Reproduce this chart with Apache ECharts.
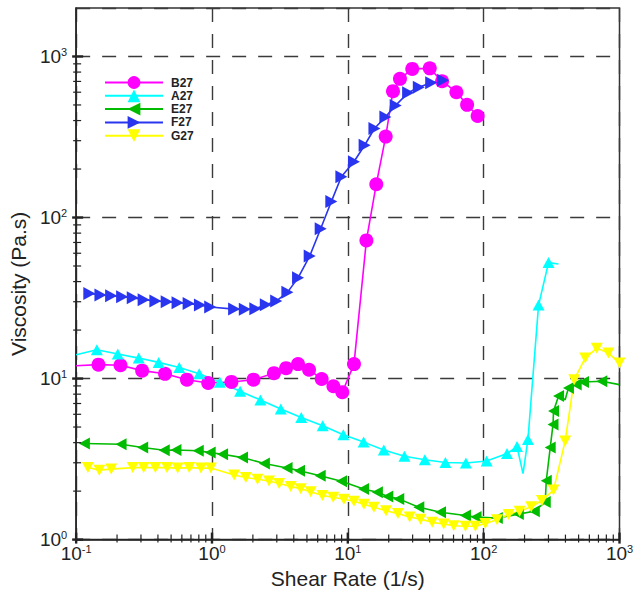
<!DOCTYPE html>
<html>
<head>
<meta charset="utf-8">
<script src="https://cdn.jsdelivr.net/npm/echarts@6/dist/echarts.min.js"></script>
<style>
  html, body { margin: 0; padding: 0; background: #fff; }
  #chart { width: 643px; height: 594px; }
</style>
</head>
<body>
<div id="chart"></div>
<script>
// Shear rate (1/s) and viscosity (Pa.s) for each sample
const B27_RATE = [0.1, 0.146, 0.212, 0.306, 0.451, 0.654, 0.938, 1.39, 2.02, 2.86, 3.51, 4.30, 5.18, 6.42, 7.83, 9.11, 11.1, 13.7, 16.2, 19.0, 21.5, 24.2, 29.8, 40.1, 49.4, 63.0, 75.5, 90.3];
const B27_VISC = [12.0, 12.2, 12.1, 11.2, 10.7, 9.84, 9.39, 9.53, 9.84, 10.8, 11.6, 12.3, 11.35, 9.94, 8.96, 8.23, 12.3, 72.1, 161, 318, 609, 726, 837, 844, 702, 600, 501, 427];
const B27_BARE = [0];

const A27_RATE = [0.1, 0.142, 0.2025, 0.289, 0.405, 0.574, 0.805, 1.143, 1.611, 2.272, 3.21, 4.54, 6.53, 9.27, 13.07, 18.4, 26.1, 36.9, 52.3, 74.0, 105.2, 148.6, 176, 194.8, 211.9, 253.6, 300.3, 355.6];
const A27_VISC = [14.05, 15.1, 14.2, 13.4, 12.6, 11.7, 10.7, 9.50, 8.35, 7.36, 6.47, 5.73, 5.10, 4.48, 4.03, 3.60, 3.29, 3.13, 3.01, 2.99, 3.08, 3.42, 3.78, 2.57, 4.19, 28.6, 52.5, 51.4];
const A27_BARE = [0, 23, 27];

const E27_RATE = [0.115, 0.214, 0.309, 0.445, 0.543, 0.792, 0.970, 1.196, 1.678, 2.43, 3.57, 4.41, 6.26, 8.98, 13.06, 16.5, 19.7, 23.7, 33.3, 48.1, 73.4, 87.9, 126, 180, 236, 284, 289, 309, 324, 327, 356, 398, 421, 480, 543, 741, 998];
const E27_VISC = [3.95, 3.91, 3.73, 3.59, 3.6, 3.56, 3.47, 3.39, 3.23, 2.97, 2.78, 2.68, 2.49, 2.30, 2.06, 1.97, 1.85, 1.79, 1.59, 1.48, 1.41, 1.38, 1.36, 1.44, 1.50, 1.71, 2.32, 3.73, 5.19, 6.28, 7.78, 7.38, 8.75, 9.17, 9.53, 9.62, 9.17];
const E27_BARE = [31, 36];

const F27_RATE = [0.125, 0.151, 0.181, 0.218, 0.261, 0.314, 0.383, 0.464, 0.558, 0.673, 0.815, 0.970, 1.456, 1.745, 2.085, 2.49, 2.97, 3.59, 4.30, 5.24, 6.31, 7.56, 8.96, 11.09, 13.3, 15.7, 18.9, 22.5, 27.8, 33.3, 41.1, 50.3];
const F27_VISC = [33.8, 33.0, 32.7, 32.2, 31.8, 30.9, 30.3, 30.0, 29.6, 29.2, 28.6, 27.8, 27.0, 26.9, 27.1, 28.7, 30.3, 34.3, 42.2, 57.6, 85.1, 125.6, 179, 222, 281, 357, 421, 497, 595, 644, 686, 712];
const F27_BARE = [];

const G27_RATE = [0.122, 0.148, 0.181, 0.261, 0.314, 0.383, 0.466, 0.559, 0.680, 0.829, 0.981, 1.456, 1.774, 2.163, 2.63, 3.12, 3.80, 4.50, 5.33, 6.50, 7.80, 9.36, 11.09, 13.13, 15.55, 19.11, 23.4, 28.5, 34.3, 41.8, 50.8, 60.2, 73.4, 86.9, 102.9, 125.5, 152.7, 183.9, 224, 268.5, 326.8, 398.3, 463.9, 558.8, 681, 828.5, 1000];
const G27_VISC = [2.80, 2.70, 2.74, 2.80, 2.80, 2.80, 2.80, 2.78, 2.80, 2.78, 2.78, 2.52, 2.43, 2.37, 2.31, 2.23, 2.14, 2.07, 1.98, 1.88, 1.83, 1.78, 1.73, 1.66, 1.59, 1.51, 1.45, 1.38, 1.34, 1.28, 1.25, 1.22, 1.21, 1.21, 1.26, 1.33, 1.43, 1.50, 1.60, 1.75, 2.03, 4.10, 9.84, 13.4, 15.45, 14.4, 12.5];
const G27_BARE = [];

const SERIES_NAMES = ['B27', 'A27', 'E27', 'F27', 'G27'];

// Axis ranges and tick decades
const X_MIN = 0.1, X_MAX = 1000;
const Y_MIN = 1, Y_MAX = 2000;
const X_DECADES = [0.1, 1, 10, 100, 1000];
const Y_DECADES = [1, 10, 100, 1000];
const MINOR_STEPS = [2, 3, 4, 5, 6, 7, 8, 9];

const FONT = '"Liberation Sans", Arial, Helvetica, sans-serif';
const INK = '#222';

function points(rates, viscs, bare) {
  return rates.map((r, i) => bare.indexOf(i) >= 0
    ? { value: [r, viscs[i]], symbol: 'none' }
    : [r, viscs[i]]);
}

const SYM_RIGHT = 'path://M0,0 L10,5 L0,10 Z';
const SYM_LEFT = 'path://M10,0 L0,5 L10,10 Z';
const SYM_DOWN = 'path://M0,0 L10,0 L5,10 Z';
const SYM_UP = 'path://M5,0 L10,10 L0,10 Z';

function lineSeries(name, data, color, symbol, size) {
  return {
    name, type: 'line', data,
    symbol, symbolSize: size, showSymbol: true,
    lineStyle: { color, width: 1.6 },
    itemStyle: { color, borderWidth: 0 },
    emphasis: { disabled: true },
    animation: false, z: 3
  };
}

// Tick values: decades are major, 2..9 multiples are minor
function tickList(decades, limit) {
  const out = [];
  decades.forEach(d => {
    out.push([d, 1]);
    MINOR_STEPS.forEach(m => { if (d * m < limit) out.push([d * m, 0]); });
  });
  return out;
}
const xTicks = tickList(X_DECADES, X_MAX).map(t => [t[0], Y_MIN, t[1]]);
const yTicks = tickList(Y_DECADES, 1000).map(t => [X_MIN, t[0], t[1]]);

function decadeLabel(v) {
  const e = Math.log10(v);
  const r = Math.round(e);
  if (Math.abs(e - r) > 1e-6) return '';
  return '{b|10}{s|' + r + '}';
}
const labelRich = {
  b: { fontSize: 19, fontFamily: FONT, color: INK, lineHeight: 20 },
  s: { fontSize: 11, fontFamily: FONT, color: INK, verticalAlign: 'top', lineHeight: 12 }
};

const gridLine = { show: true, lineStyle: { color: '#3a3a3a', width: 1.4, type: [14, 12] } };

const chart = echarts.init(document.getElementById('chart'), null, { renderer: 'svg' });
chart.setOption({
  animation: false,
  backgroundColor: '#fff',
  grid: {
    left: 75, right: 23.5, top: 8, bottom: 51,
    show: true, borderColor: '#333', borderWidth: 1.5, backgroundColor: 'transparent'
  },
  legend: {
    data: SERIES_NAMES,
    orient: 'vertical',
    left: 99, top: 71,
    itemWidth: 58, itemHeight: 16, itemGap: 0.3,
    textStyle: { fontFamily: FONT, fontSize: 12, lineHeight: 13, fontWeight: 'bold', color: INK, padding: [0, 0, 0, 3] },
    selectedMode: false
  },
  xAxis: {
    type: 'log', logBase: 10, min: X_MIN, max: X_MAX,
    name: 'Shear Rate (1/s)', nameLocation: 'middle', nameGap: 24,
    nameTextStyle: { fontFamily: FONT, fontSize: 21, color: INK },
    axisLine: { lineStyle: { color: '#222', width: 1.5 } },
    axisTick: { show: false },
    axisLabel: { formatter: decadeLabel, rich: labelRich, margin: 4 },
    splitLine: gridLine
  },
  yAxis: {
    type: 'log', logBase: 10, min: Y_MIN, max: Y_MAX,
    name: 'Viscosity (Pa.s)', nameLocation: 'middle', nameGap: 40,
    nameTextStyle: { fontFamily: FONT, fontSize: 21, color: INK, padding: [0, 20, 0, 0] },
    axisLine: { lineStyle: { color: '#222', width: 1.5 } },
    axisTick: { show: false },
    axisLabel: { formatter: decadeLabel, rich: labelRich, margin: 9 },
    splitLine: gridLine
  },
  series: [
    lineSeries('B27', points(B27_RATE, B27_VISC, B27_BARE), '#ff00ff', 'circle', 14),
    lineSeries('A27', points(A27_RATE, A27_VISC, A27_BARE), '#00ffff', SYM_UP, [12, 11]),
    lineSeries('E27', points(E27_RATE, E27_VISC, E27_BARE), '#00bb00', SYM_LEFT, [11, 12]),
    lineSeries('F27', points(F27_RATE, F27_VISC, F27_BARE), '#2a35f0', SYM_RIGHT, [12, 13]),
    lineSeries('G27', points(G27_RATE, G27_VISC, G27_BARE), '#ffff00', SYM_DOWN, [12, 11]),
    {
      name: 'xTicks', type: 'custom', data: xTicks, clip: false, silent: true, z: 5,
      renderItem: (params, api) => {
        const p = api.coord([api.value(0), api.value(1)]);
        const major = api.value(2) === 1;
        return {
          type: 'line',
          shape: { x1: p[0], y1: p[1] - (major ? 7 : 5), x2: p[0], y2: p[1] + (major ? 4 : 3) },
          style: { stroke: '#222', lineWidth: major ? 2.4 : 1.2 }
        };
      }
    },
    {
      name: 'yTicks', type: 'custom', data: yTicks, clip: false, silent: true, z: 5,
      renderItem: (params, api) => {
        const p = api.coord([api.value(0), api.value(1)]);
        const major = api.value(2) === 1;
        return {
          type: 'line',
          shape: { x1: p[0] - (major ? 4 : 3), y1: p[1], x2: p[0] + (major ? 7 : 5), y2: p[1] },
          style: { stroke: '#222', lineWidth: major ? 2.4 : 1.2 }
        };
      }
    }
  ]
});
</script>
</body>
</html>
